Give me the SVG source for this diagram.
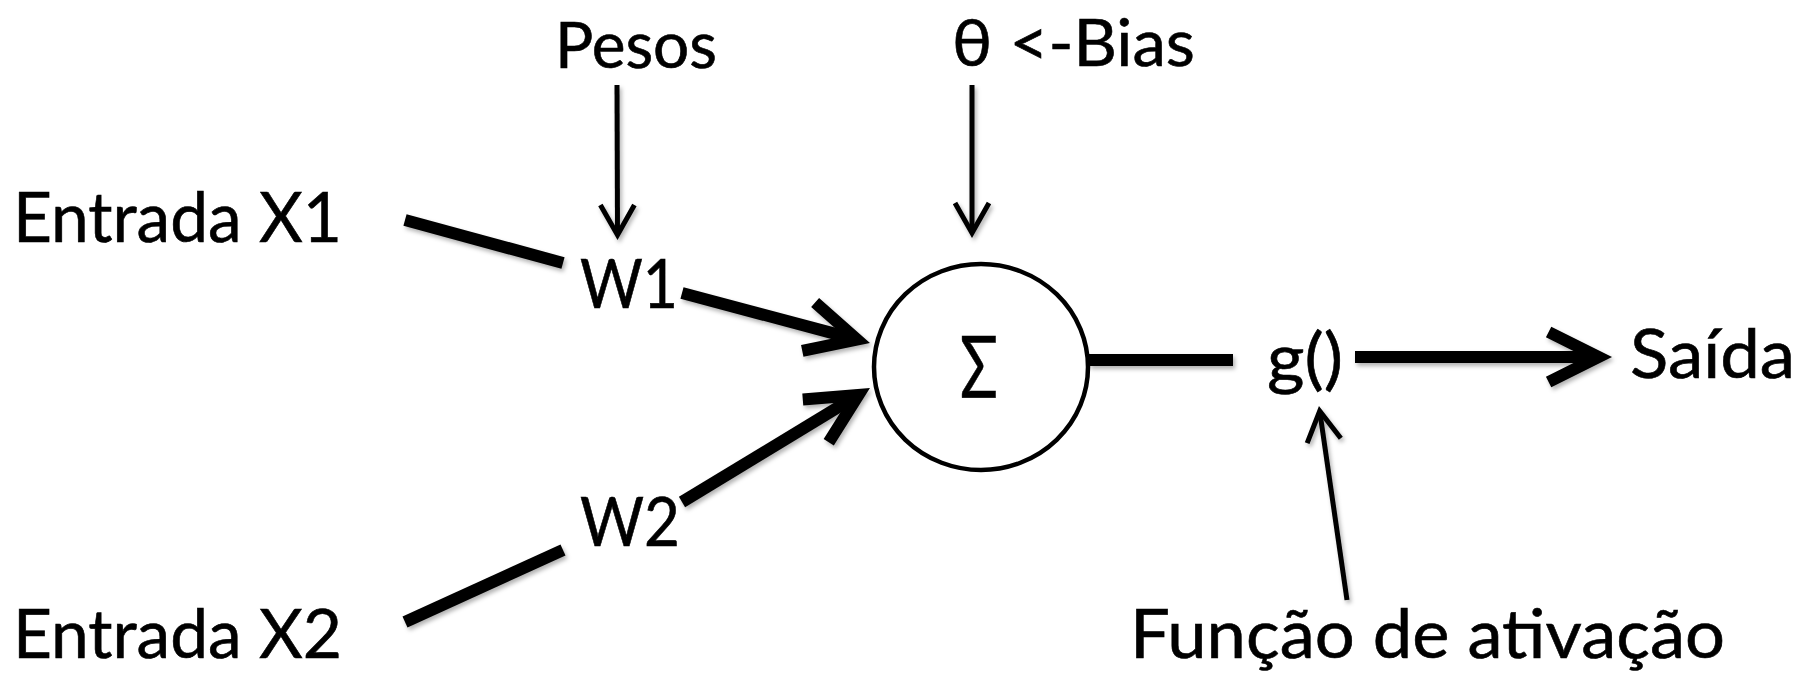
<svg xmlns="http://www.w3.org/2000/svg" width="1816" height="673" viewBox="0 0 1816 673">
  <style>
    .lbl { font-family: Lato, "Liberation Sans", "DejaVu Sans", sans-serif; fill: #000; stroke: #000; stroke-width: 0.6; }
    .thick { stroke: #000; stroke-width: 12; fill: none; stroke-linecap: butt; }
    .thin { stroke: #000; stroke-width: 5; fill: none; stroke-linecap: butt; }
    .head { fill: none; stroke: #000; stroke-linejoin: miter; stroke-miterlimit: 10; }
  </style>
  <defs>
    <!-- open V arrowheads, sized in user units so they do not scale with the stroke -->
    <marker id="arrow-thick" markerUnits="userSpaceOnUse" viewBox="-60 -35 80 70" markerWidth="80" markerHeight="70" refX="0" refY="0" orient="auto" overflow="visible">
      <path class="head" stroke-width="12" d="M -50,-25 L 0,0 L -50,25"/>
    </marker>
    <marker id="arrow-thin" markerUnits="userSpaceOnUse" viewBox="-40 -25 50 50" markerWidth="50" markerHeight="50" refX="0" refY="0" orient="auto" overflow="visible">
      <path class="head" stroke-width="5" d="M -30,-17 L 0,0 L -30,17"/>
    </marker>
    <filter id="soft-shadow" x="-10%" y="-10%" width="120%" height="130%">
      <feDropShadow dx="2" dy="3" stdDeviation="2" flood-color="#000" flood-opacity="0.3"/>
    </filter>
  </defs>

  <rect width="1816" height="673" fill="#fff"/>

  <!-- connectors -->
  <g id="connectors" filter="url(#soft-shadow)">
    <!-- input 1 through weight W1 into the summing node -->
    <line class="thick" x1="405" y1="220" x2="563" y2="263"/>
    <line class="thick" x1="682" y1="293" x2="857" y2="339.6" marker-end="url(#arrow-thick)"/>
    <!-- input 2 through weight W2 into the summing node -->
    <line class="thick" x1="405" y1="622" x2="563" y2="550"/>
    <line class="thick" x1="682" y1="502" x2="858.5" y2="394.9" marker-end="url(#arrow-thick)"/>
    <!-- summing node to activation -->
    <line class="thick" x1="1089" y1="360" x2="1233" y2="360"/>
    <!-- activation to output -->
    <line class="thick" x1="1355" y1="357" x2="1598.6" y2="357" marker-end="url(#arrow-thick)"/>
    <!-- annotation pointers -->
    <line class="thin" x1="617" y1="85" x2="617.5" y2="235" marker-end="url(#arrow-thin)"/>
    <line class="thin" x1="972" y1="85" x2="972" y2="233" marker-end="url(#arrow-thin)"/>
    <line class="thin" x1="1347" y1="600" x2="1319.7" y2="411" marker-end="url(#arrow-thin)"/>
  </g>

  <g id="n-pesos">
    <text class="lbl" x="555" y="68" font-size="63" textLength="162" lengthAdjust="spacingAndGlyphs">Pesos</text>
  </g>
  <g id="n-bias">
    <text class="lbl" x="952" y="66" font-size="66" textLength="243" lengthAdjust="spacingAndGlyphs">θ &lt;-Bias</text>
  </g>
  <g id="n-entrada-x1">
    <text class="lbl" x="13" y="242" font-size="69" textLength="329" lengthAdjust="spacingAndGlyphs">Entrada X1</text>
  </g>
  <g id="n-w1">
    <text class="lbl" x="580" y="308" font-size="67" textLength="98" lengthAdjust="spacingAndGlyphs">W1</text>
  </g>
  <g id="n-w2">
    <text class="lbl" x="580" y="546" font-size="67" textLength="100" lengthAdjust="spacingAndGlyphs">W2</text>
  </g>
  <g id="n-entrada-x2">
    <text class="lbl" x="13" y="658" font-size="67" textLength="329" lengthAdjust="spacingAndGlyphs">Entrada X2</text>
  </g>
  <g id="n-soma">
    <ellipse cx="981" cy="367" rx="107" ry="103" fill="#fff" stroke="#000" stroke-width="4.5"/>
    <text class="lbl" x="960" y="397" font-size="86" textLength="38" lengthAdjust="spacingAndGlyphs">Σ</text>
  </g>
  <g id="n-g">
    <text class="lbl" x="1267" y="382" font-size="67" textLength="76" lengthAdjust="spacingAndGlyphs">g()</text>
  </g>
  <g id="n-saida">
    <text class="lbl" x="1630" y="378" font-size="67" textLength="165" lengthAdjust="spacingAndGlyphs">Saída</text>
  </g>
  <g id="n-funcao">
    <text class="lbl" x="1130" y="658" font-size="67" textLength="595" lengthAdjust="spacingAndGlyphs">Função de ativação</text>
  </g>
</svg>
